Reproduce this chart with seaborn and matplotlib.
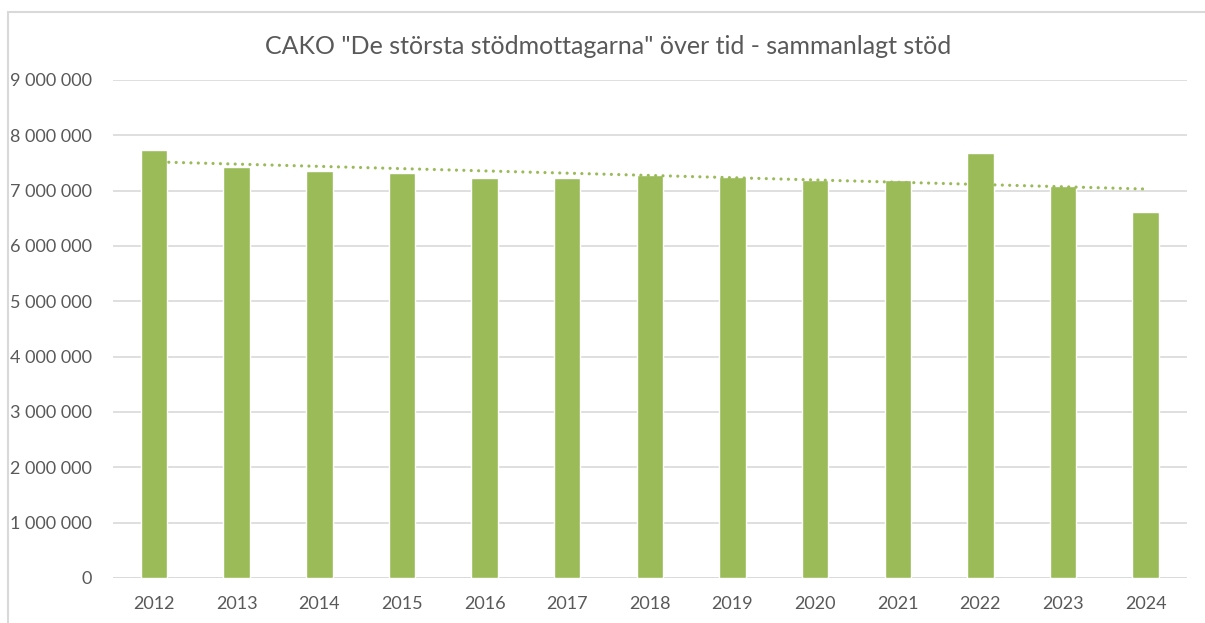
import numpy as np
import pandas as pd
import matplotlib
matplotlib.use("Agg")
import matplotlib.pyplot as plt
import seaborn as sns
from matplotlib.lines import Line2D
from matplotlib.ticker import FuncFormatter

years = ["2012", "2013", "2014", "2015", "2016", "2017", "2018",
         "2019", "2020", "2021", "2022", "2023", "2024"]
totals = [7740000, 7420000, 7350000, 7320000, 7220000, 7220000, 7290000,
          7240000, 7190000, 7200000, 7680000, 7090000, 6620000]
title = 'CAKO "De största stödmottagarna" över tid - sammanlagt stöd'

GREEN = "#9BBB59"
GREY = "#595959"

sns.set_theme(style="white")
plt.rcParams["font.family"] = ["Lato", "DejaVu Sans"]

df = pd.DataFrame({"year": years, "total": totals})

fig = plt.figure(figsize=(12.05, 6.23), dpi=100)
ax = fig.add_axes([112.7 / 1205, 1 - 578 / 623, (1187 - 112.7) / 1205, (578 - 80) / 623])

sns.barplot(data=df, x="year", y="total", color=GREEN, width=0.32,
            saturation=1, ax=ax, zorder=3)

# linear trendline (Excel style, dotted)
x = np.arange(len(years))
k, m = np.polyfit(x, df["total"], 1)
ax.plot(x, k * x + m, color=GREEN, lw=2.3, linestyle=(0, (0.01, 2.3)),
        dash_capstyle="round", zorder=4)

ax.set_ylim(0, 9000000)
ax.set_xlim(-0.5, len(years) - 0.5)
ax.set_yticks(np.arange(0, 9000001, 1000000))
ax.yaxis.set_major_formatter(FuncFormatter(lambda v, p: f"{int(v):,}".replace(",", " ")))
ax.grid(axis="y", color="#d9d9d9", lw=1.2, zorder=0)
for s in ["top", "right", "left", "bottom"]:
    ax.spines[s].set_visible(False)
ax.axhline(0, color="#d9d9d9", lw=1.2, zorder=2)
ax.tick_params(axis="both", length=0, labelsize=13, colors=GREY)
ax.tick_params(axis="y", pad=15)
ax.tick_params(axis="x", pad=13)
ax.set_xlabel("")
ax.set_ylabel("")

fig.text(0.505, 1 - 47 / 623, title, ha="center", va="center", fontsize=18, color=GREY)

# chart frame
fig.add_artist(Line2D([8 / 1205, 8 / 1205], [0, 1 - 12 / 623], color="#d9d9d9", lw=1.5))
fig.add_artist(Line2D([8 / 1205, 1], [1 - 12 / 623, 1 - 12 / 623], color="#d9d9d9", lw=1.5))

fig.savefig("out.png", dpi=100)
